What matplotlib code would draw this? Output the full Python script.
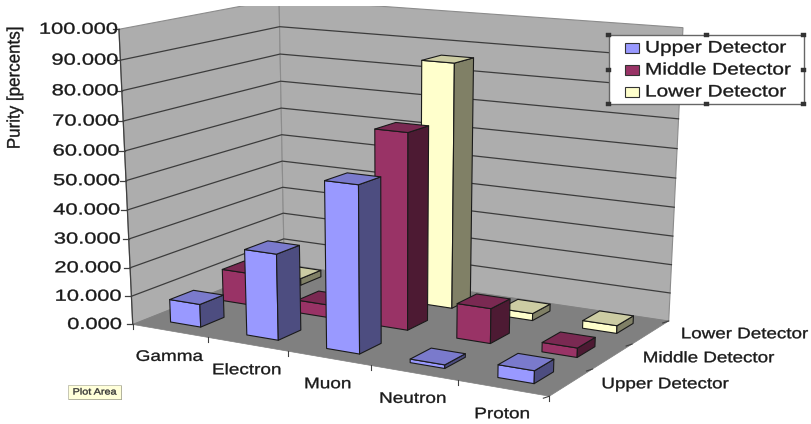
import numpy as np
import matplotlib
matplotlib.use('Agg')
import matplotlib.pyplot as plt
from matplotlib.patches import Polygon, Rectangle
from matplotlib.patheffects import AbstractPathEffect
from matplotlib.transforms import Affine2D

plt.rcParams['font.family'] = ['Liberation Sans', 'DejaVu Sans']

categories = ['Gamma', 'Electron', 'Muon', 'Neutron', 'Proton']
detectors = ['Upper Detector', 'Middle Detector', 'Lower Detector']
upper = [8, 29.5, 56, 1.2, 4.2]
middle = [11.5, 4.5, 67.5, 12, 3.2]
lower = [2.5, 0.5, 86, 2.5, 2.7]
values = [upper, middle, lower]
y_ticks = [0, 10, 20, 30, 40, 50, 60, 70, 80, 90, 100]

# face, top, side colours of each series
colors = [('#9999FF', '#7A7ACC', '#4D4D80'),
          ('#993366', '#7A2952', '#4D1A33'),
          ('#FFFFCC', '#CCCCA3', '#808066')]

# corners of the plot box in picture pixels, (category, depth, height) -> (x, y)
box3d = [(0, 0, 0), (1, 0, 0), (1, 1, 0), (0, 1, 0), (0, 0, 1), (1, 1, 1), (0, 1, 1)]
box2d = [(133, 324), (549, 397), (669, 320), (284, 265), (119, 29), (683, 28), (279, -1)]


def fit_camera(p3, p2):
    rows = []
    for (a, b, c), (x, y) in zip(p3, p2):
        rows.append([a, b, c, 1, 0, 0, 0, 0, -x * a, -x * b, -x * c, -x])
        rows.append([0, 0, 0, 0, a, b, c, 1, -y * a, -y * b, -y * c, -y])
    return np.linalg.svd(np.array(rows, float))[2][-1].reshape(3, 4)


cam = fit_camera(box3d, box2d)


def proj(i, d, v):
    # i = category position, d = series position, v = value
    h = cam @ np.array([i / len(categories), d / len(detectors), v / 100, 1.0])
    return h[0] / h[2], h[1] / h[2]


class Stretch(AbstractPathEffect):
    # the original text is scaled sideways, so widen the glyphs along the baseline
    def __init__(self, sx, lw=0.25):
        super().__init__()
        self.sx = sx
        self.lw = lw

    def draw_path(self, renderer, gc, tpath, affine, rgbFace=None):
        gc0 = renderer.new_gc()
        gc0.copy_properties(gc)
        gc0.set_linewidth(self.lw)
        gc0.set_foreground(rgbFace)
        renderer.draw_path(gc0, tpath, Affine2D().scale(self.sx, 1) + affine, rgbFace)
        gc0.restore()


fig = plt.figure(figsize=(8.12, 4.24), dpi=100)
ax = fig.add_axes([0, 0, 1, 1])
ax.set_xlim(0, 812)
ax.set_ylim(424, 0)
ax.axis('off')


def label(x, y, s, size, sx, ha='left', rotation=0, zorder=5, color='#1a1a1a'):
    t = ax.text(x, y, s, ha='left', va='center', fontsize=size, rotation=rotation,
                rotation_mode='anchor', color=color, zorder=zorder)
    r = fig.canvas.get_renderer()
    w = t.get_window_extent(r)
    length = max(w.width, w.height) * sx
    shift = {'left': 0, 'center': length / 2, 'right': length}[ha]
    if rotation == 90:
        t.set_position((x, y + shift))
    else:
        t.set_position((x - shift, y))
    t.set_path_effects([Stretch(sx)])
    return t


clip = Rectangle((0, 6), 812, 418, transform=ax.transData)
nc = len(categories)
nd = len(detectors)

# walls and floor
for pts in ([proj(0, 0, 0), proj(0, nd, 0), proj(0, nd, 100), proj(0, 0, 100)],
            [proj(0, nd, 0), proj(nc, nd, 0), proj(nc, nd, 100), proj(0, nd, 100)]):
    p = Polygon(pts, fc='#ADADAD', ec='#8c8c8c', lw=0.8, zorder=1)
    ax.add_patch(p)
    p.set_clip_path(clip)
ax.add_patch(Polygon([proj(0, 0, 0), proj(nc, 0, 0), proj(nc, nd, 0), proj(0, nd, 0)],
                     fc='#808080', ec='#808080', lw=0.5, zorder=2))

# gridlines
for t in y_ticks[1:-1]:
    xs, ys = zip(proj(0, 0, t), proj(0, nd, t), proj(nc, nd, t))
    ax.plot(xs, ys, color='#3c3c3c', lw=0.9, zorder=3)
xs, ys = zip(proj(0, 0, 0), proj(0, 0, 100))
ax.plot(xs, ys, color='#404040', lw=0.9, zorder=3)

# value axis ticks and labels
for t in y_ticks:
    x, y = proj(0, 0, t)
    ax.plot([x - 6, x], [y, y], color='#404040', lw=0.9, zorder=3)
    label(122 - 4 * t / 100, y, '%.3f' % t, 11.5, 1.37, ha='right')

# category ticks and labels
for i in range(nc + 1):
    x, y = proj(i, 0, 0)
    ax.plot([x, x], [y, y + 5], color='#404040', lw=0.8, zorder=3)
for i, name in enumerate(categories):
    x, y = proj(i + 0.5, 0, 0)
    label(x - 1, y + 26, name, 11, 1.24, ha='center')

# depth ticks and labels
for d in range(nd + 1):
    x, y = proj(nc, d, 0)
    ax.plot([x - 6, x], [y + 2, y], color='#404040', lw=0.8, zorder=3)
for d, name in enumerate(detectors):
    x, y = proj(nc, d + 0.5, 0)
    label(x + 30, y + 2, name, 11, 1.23)

label(15, 88, 'Purity [percents]', 13, 0.94, ha='center', rotation=90)

# bars, back row first, left to right
bw = 0.4
bd = 0.44
for d in range(nd - 1, -1, -1):
    for i in range(nc):
        v = values[d][i]
        i0, i1 = i + 0.5 - bw / 2, i + 0.5 + bw / 2
        d0, d1 = d + 0.5 - bd / 2, d + 0.5 + bd / 2
        face, top, side = colors[d]
        kw = dict(ec='#1a1a1a', lw=0.8, zorder=4, joinstyle='round')
        ax.add_patch(Polygon([proj(i0, d0, 0), proj(i1, d0, 0), proj(i1, d0, v), proj(i0, d0, v)], fc=face, **kw))
        ax.add_patch(Polygon([proj(i1, d0, 0), proj(i1, d1, 0), proj(i1, d1, v), proj(i1, d0, v)], fc=side, **kw))
        ax.add_patch(Polygon([proj(i0, d0, v), proj(i1, d0, v), proj(i1, d1, v), proj(i0, d1, v)], fc=top, **kw))

# legend box with its selection handles
lx0, ly0, lx1, ly1 = 609, 35, 804, 104
ax.add_patch(Rectangle((lx0, ly0), lx1 - lx0, ly1 - ly0, fc='white', ec='#666666', lw=1.0, zorder=6))
for d, name in enumerate(detectors):
    y = 48 + d * 22
    ax.add_patch(Rectangle((625, y - 5), 14, 10, fc=colors[d][0], ec='#333333', lw=0.8, zorder=7))
    label(645, y, name, 12, 1.25, zorder=7)
for hx in (lx0, (lx0 + lx1) / 2, lx1):
    for hy in (ly0, (ly0 + ly1) / 2, ly1):
        if hx == (lx0 + lx1) / 2 and hy == (ly0 + ly1) / 2:
            continue
        ax.add_patch(Rectangle((hx - 2.5, hy - 2), 5, 4, fc='#333333', ec='#333333', lw=0.3, zorder=8))

# tooltip
ax.add_patch(Rectangle((69, 386), 53, 14, fc='#808060', ec='none', zorder=6))
ax.add_patch(Rectangle((68, 385), 53, 14, fc='#FFFFD9', ec='#b0b0a0', lw=0.5, zorder=7))
label(94.5, 392, 'Plot Area', 6.5, 1.2, ha='center', zorder=8, color='#333333')

fig.savefig('out.png', dpi=100)
